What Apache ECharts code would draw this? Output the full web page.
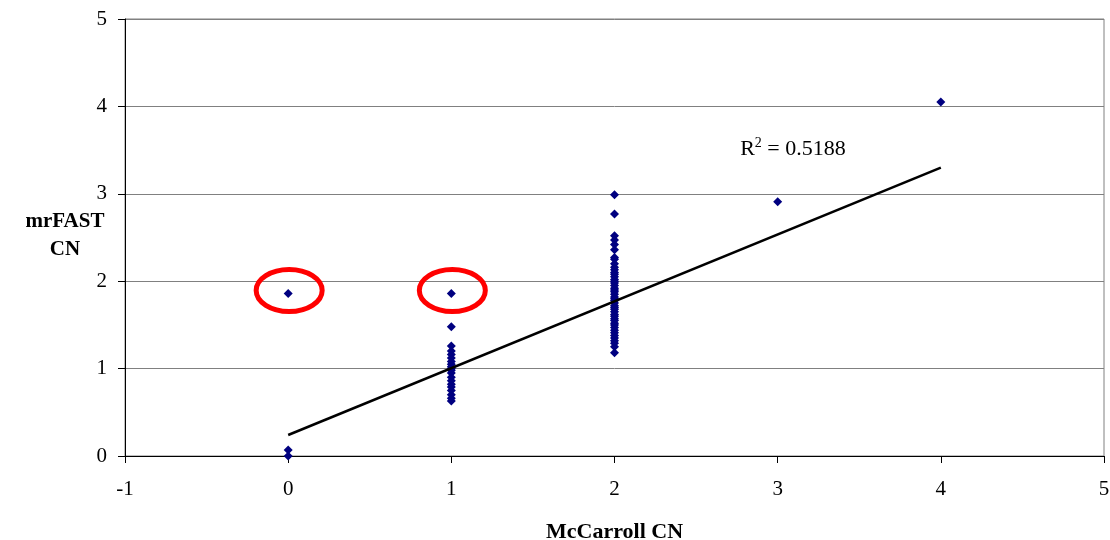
<!DOCTYPE html>
<html><head><meta charset="utf-8">
<script src="https://cdn.jsdelivr.net/npm/echarts@6/dist/echarts.min.js"></script>
<style>html,body{margin:0;padding:0;background:#fff}#c{width:1110px;height:540px}</style>
</head><body><div id="c"></div>
<script>
var xTicks = [-1, 0, 1, 2, 3, 4, 5];
var yTicks = [0, 1, 2, 3, 4, 5];
var x0Vals = [1.86, 0.07, 0.0];
var x1Vals = [1.86, 1.48, 1.26, 1.2, 1.16, 1.12, 1.08, 1.05, 1.02, 1.0, 0.98, 0.95, 0.9, 0.86, 0.82, 0.79, 0.75, 0.7, 0.66, 0.63];
var x2Vals = [2.99, 2.77, 2.52, 2.47, 2.42, 2.36, 2.27, 2.25, 2.2, 2.16, 2.13, 2.1, 2.08, 2.05, 2.02, 2.0, 1.98, 1.95, 1.92, 1.9, 1.88, 1.85, 1.82, 1.8, 1.78, 1.75, 1.72, 1.7, 1.68, 1.65, 1.62, 1.6, 1.57, 1.55, 1.52, 1.5, 1.47, 1.44, 1.41, 1.38, 1.35, 1.32, 1.29, 1.25, 1.18];
var x3Vals = [2.91];
var x4Vals = [4.05];
var trendX = [0, 4];
var trendY = [0.24, 3.3];
var circled = [[0, 1.86], [1, 1.86]];
var rLabelPos = [2.77, 3.52];

var pts = [];
x0Vals.forEach(function(v){pts.push([0, v]);});
x1Vals.forEach(function(v){pts.push([1, v]);});
x2Vals.forEach(function(v){pts.push([2, v]);});
x3Vals.forEach(function(v){pts.push([3, v]);});
x4Vals.forEach(function(v){pts.push([4, v]);});

var font = '"Liberation Serif", "Times New Roman", serif';
var chart = echarts.init(document.getElementById('c'));
chart.setOption({
  animation: false,
  grid: {left: 125, right: 6, top: 19, bottom: 84, containLabel: false, outerBoundsMode: 'none',
         show: true, borderColor: '#808080', borderWidth: 1, backgroundColor: 'transparent'},
  xAxis: {
    type: 'value', min: -1, max: 5, interval: 1,
    name: 'McCarroll CN', nameLocation: 'middle', nameGap: 65,
    nameTextStyle: {fontFamily: font, fontSize: 22, fontWeight: 'bold', color: '#000'},
    axisLine: {show: true, onZero: false, lineStyle: {color: '#000', width: 1}},
    axisTick: {show: true, length: 7, lineStyle: {color: '#000'}},
    axisLabel: {fontFamily: font, fontSize: 21, color: '#000', margin: 23},
    splitLine: {show: false}
  },
  yAxis: {
    type: 'value', min: 0, max: 5, interval: 1,
    axisLine: {show: true, onZero: false, lineStyle: {color: '#000', width: 1}},
    axisTick: {show: true, length: 7, lineStyle: {color: '#000'}},
    axisLabel: {fontFamily: font, fontSize: 21, color: '#000', margin: 18},
    splitLine: {show: true, lineStyle: {color: '#808080', width: 1}}
  },
  series: [
    {type: 'scatter', data: pts, symbol: 'diamond', symbolSize: 9,
     itemStyle: {color: '#000080', opacity: 1}, z: 3},
    {type: 'line', data: trendX.map(function(x, i){return [x, trendY[i]];}),
     symbol: 'none', lineStyle: {color: '#000', width: 2.5}, z: 4}
  ]
});

function drawExtras(){
  var g = [];
  circled.forEach(function(c){
    var p = chart.convertToPixel({gridIndex: 0}, c);
    g.push({type: 'ellipse', shape: {cx: p[0] + 1, cy: p[1] - 3, rx: 33, ry: 21},
      style: {fill: null, stroke: '#ff0000', lineWidth: 5}, z: 10});
  });
  var lp = chart.convertToPixel({gridIndex: 0}, rLabelPos);
  g.push({type: 'text', x: lp[0], y: lp[1], z: 10,
    style: {text: '{r|R}{s|2}{r| = 0.5188}', verticalAlign: 'middle', align: 'left',
      rich: {r: {fontFamily: font, fontSize: 22, color: '#000', verticalAlign: 'bottom'},
             s: {fontFamily: font, fontSize: 14, color: '#000', verticalAlign: 'top', padding: [0, 0, 10, 0]}}}});
  g.push({type: 'text', x: 65, y: 236, z: 10,
    style: {text: 'mrFAST\nCN', align: 'center', verticalAlign: 'middle', lineHeight: 28,
      fontFamily: font, fontSize: 21, fontWeight: 'bold', fill: '#000'}});
  chart.setOption({graphic: g});
}
drawExtras();
</script>
</body></html>
